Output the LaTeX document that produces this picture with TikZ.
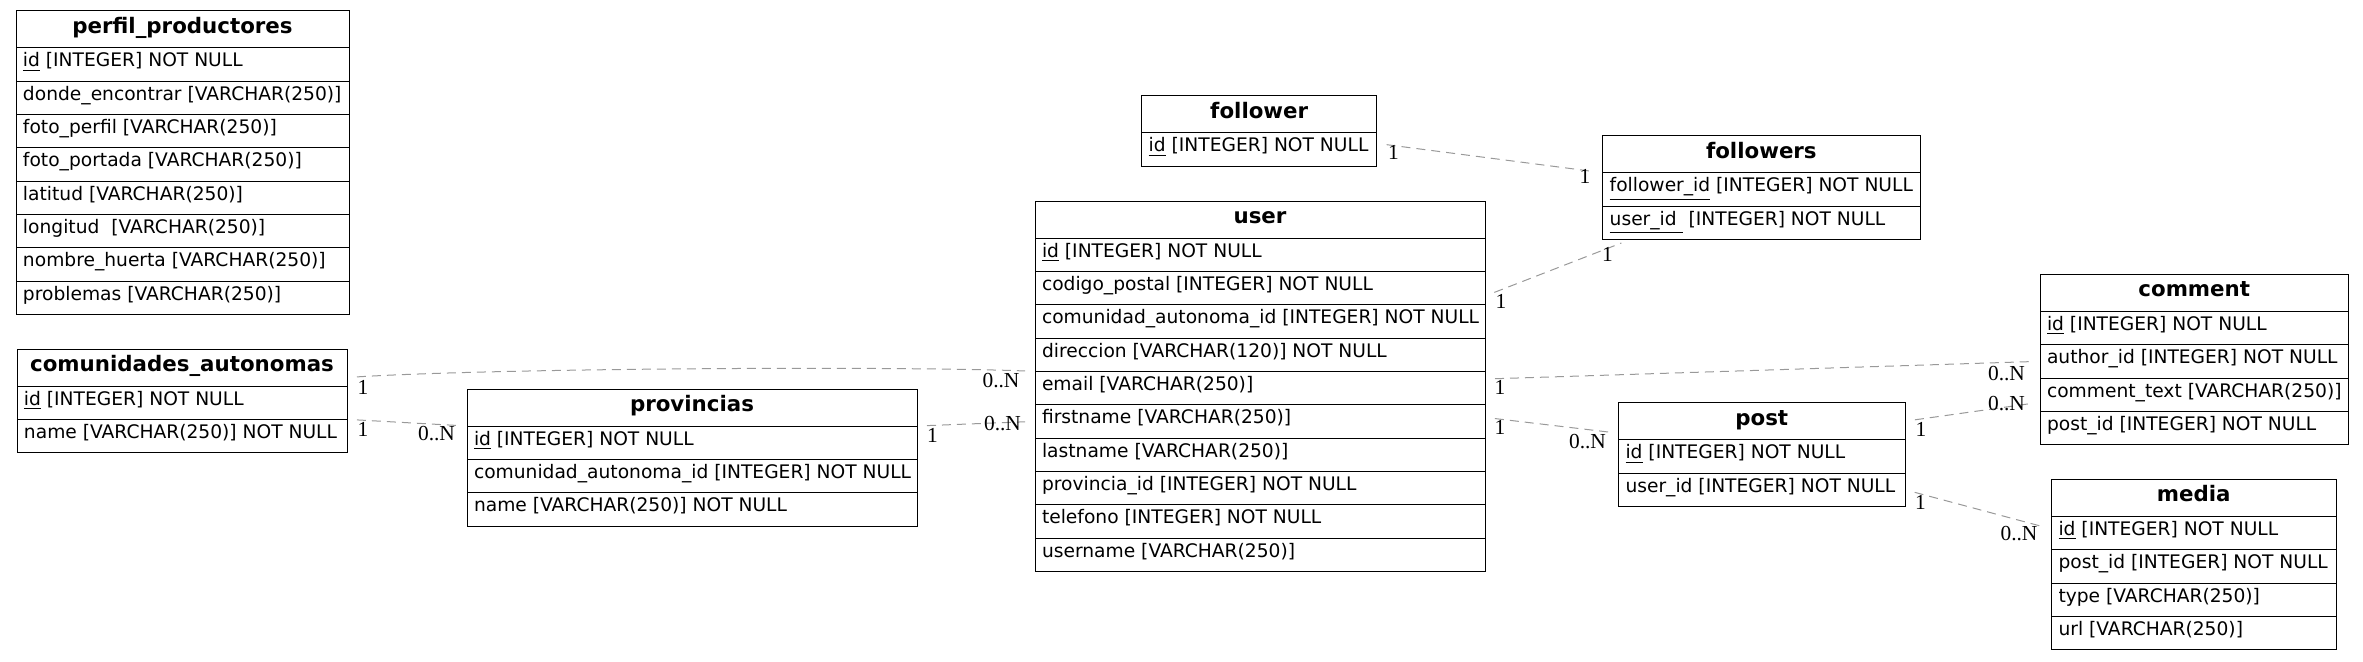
\documentclass[tikz,border=0pt]{standalone}
\usepackage{fontspec}
\setmainfont{DejaVu Sans}
\newfontfamily\cardfont{Liberation Serif}

\begin{document}
\begin{tikzpicture}[x=0.5pt, y=-0.5pt,
    tblhead/.style={draw, anchor=north west, inner xsep=3.5pt, inner ysep=0pt, outer sep=0pt,
        minimum height=18.5pt, text height=8pt, text depth=4pt,
        font=\fontsize{10.67}{12}\selectfont\bfseries},
    tblrow/.style={draw, anchor=north west, inner xsep=3.5pt, inner ysep=0pt, outer sep=0pt,
        minimum height=16.67pt, text height=7pt, text depth=4.5pt,
        font=\fontsize{9.33}{11}\selectfont},
    rel/.style={draw=gray!80, line width=0.5pt, dash pattern=on 4.5pt off 3pt,
        shorten <=5pt, shorten >=5pt},
    card/.style={inner sep=0pt, font=\cardfont\fontsize{10.7}{12}\selectfont}]

    \useasboundingbox (0,0) rectangle (2363,661);

    % perfil_productores
    \node[tblhead, minimum width=166.5pt] (pp-h) at (16,10.7) {perfil\_productores};
    \foreach \txt [count=\i] in {{\underline{id} [INTEGER] NOT NULL},
        {donde\_encontrar [VARCHAR(250)]}, {foto\_perfil [VARCHAR(250)]},
        {foto\_portada [VARCHAR(250)]}, {latitud [VARCHAR(250)]},
        {longitud\ \ [VARCHAR(250)]}, {nombre\_huerta [VARCHAR(250)]},
        {problemas [VARCHAR(250)]}}
        \node[tblrow, minimum width=166.5pt] (pp-\i) at ([yshift={-16.67pt*(\i-1)}]pp-h.south west)
            {\makebox[159.5pt][l]{\txt}};

    % comunidades_autonomas
    \node[tblhead, minimum width=165pt] (ca-h) at (17,349) {comunidades\_autonomas};
    \foreach \txt [count=\i] in {{\underline{id} [INTEGER] NOT NULL},
        {name [VARCHAR(250)] NOT NULL}}
        \node[tblrow, minimum width=165pt] (ca-\i) at ([yshift={-16.67pt*(\i-1)}]ca-h.south west)
            {\makebox[158pt][l]{\txt}};

    % provincias
    \node[tblhead, minimum width=225pt] (prov-h) at (467,389) {provincias};
    \foreach \txt [count=\i] in {{\underline{id} [INTEGER] NOT NULL},
        {comunidad\_autonoma\_id [INTEGER] NOT NULL}, {name [VARCHAR(250)] NOT NULL}}
        \node[tblrow, minimum width=225pt] (prov-\i) at ([yshift={-16.67pt*(\i-1)}]prov-h.south west)
            {\makebox[218pt][l]{\txt}};

    % follower
    \node[tblhead, minimum width=117.5pt] (fwr-h) at (1141.7,95.7) {follower};
    \node[tblrow, minimum width=117.5pt] (fwr-1) at (fwr-h.south west)
        {\makebox[110.5pt][l]{\underline{id} [INTEGER] NOT NULL}};

    % user
    \node[tblhead, minimum width=225pt] (user-h) at (1035,201) {user};
    \foreach \txt [count=\i] in {{\underline{id} [INTEGER] NOT NULL},
        {codigo\_postal [INTEGER] NOT NULL}, {comunidad\_autonoma\_id [INTEGER] NOT NULL},
        {direccion [VARCHAR(120)] NOT NULL}, {email [VARCHAR(250)]},
        {firstname [VARCHAR(250)]}, {lastname [VARCHAR(250)]},
        {provincia\_id [INTEGER] NOT NULL}, {telefono [INTEGER] NOT NULL},
        {username [VARCHAR(250)]}}
        \node[tblrow, minimum width=225pt] (user-\i) at ([yshift={-16.67pt*(\i-1)}]user-h.south west)
            {\makebox[218pt][l]{\txt}};

    % followers
    \node[tblhead, minimum width=158.65pt] (fws-h) at (1602.7,135.7) {followers};
    \foreach \txt [count=\i] in {{\underline{follower\_id} [INTEGER] NOT NULL},
        {\underline{user\_id\ } [INTEGER] NOT NULL}}
        \node[tblrow, minimum width=158.65pt] (fws-\i) at ([yshift={-16.67pt*(\i-1)}]fws-h.south west)
            {\makebox[151.65pt][l]{\txt}};

    % comment
    \node[tblhead, minimum width=154.25pt] (com-h) at (2040,274.3) {comment};
    \foreach \txt [count=\i] in {{\underline{id} [INTEGER] NOT NULL},
        {author\_id [INTEGER] NOT NULL}, {comment\_text [VARCHAR(250)]},
        {post\_id [INTEGER] NOT NULL}}
        \node[tblrow, minimum width=154.25pt] (com-\i) at ([yshift={-16.67pt*(\i-1)}]com-h.south west)
            {\makebox[147.25pt][l]{\txt}};

    % post
    \node[tblhead, minimum width=143.25pt] (post-h) at (1618.5,402.7) {post};
    \foreach \txt [count=\i] in {{\underline{id} [INTEGER] NOT NULL},
        {user\_id [INTEGER] NOT NULL}}
        \node[tblrow, minimum width=143.25pt] (post-\i) at ([yshift={-16.67pt*(\i-1)}]post-h.south west)
            {\makebox[136.25pt][l]{\txt}};

    % media
    \node[tblhead, minimum width=142.25pt] (med-h) at (2051.5,479.3) {media};
    \foreach \txt [count=\i] in {{\underline{id} [INTEGER] NOT NULL},
        {post\_id [INTEGER] NOT NULL}, {type [VARCHAR(250)]}, {url [VARCHAR(250)]}}
        \node[tblrow, minimum width=142.25pt] (med-\i) at ([yshift={-16.67pt*(\i-1)}]med-h.south west)
            {\makebox[135.25pt][l]{\txt}};

    % relations
    \draw[rel] ([yshift=-5pt]ca-h.east) .. controls (500,368) and (900,366) .. (user-5.north west);
    \draw[rel] (ca-1.south east) -- (prov-1.north west);
    \draw[rel] (prov-h.south east) -- (user-6.west);
    \draw[rel] ([yshift=3pt]fwr-1.east) -- (fws-h.south west);
    \draw[rel] ([yshift=-4pt]user-2.east) -- ([xshift=14pt]fws-2.south west);
    \draw[rel] ([yshift=4.5pt]user-5.east) -- (com-2.west);
    \draw[rel] ([yshift=2pt]user-6.east) -- ([yshift=-6pt]post-h.west);
    \draw[rel] (post-h.east) -- ([yshift=-3.8pt]com-3.west);
    \draw[rel] (post-2.east) -- ([yshift=2pt]med-1.west);

    % cardinalities
    \node[card] (ca-user-t) at (363,387.5) {1};
    \node[card] (ca-user-s) at (1001,381) {0..N};
    \node[card] (ca-prov-t) at (363,429.5) {1};
    \node[card] (ca-prov-s) at (436.5,433.5) {0..N};
    \node[card] (prov-user-t) at (932.5,435.5) {1};
    \node[card] (prov-user-s) at (1002.5,423.5) {0..N};
    \node[card] (fwr-fws-t) at (1393.5,152) {1};
    \node[card] (fwr-fws-s) at (1585,176.5) {1};
    \node[card] (user-fws-t) at (1501,301) {1};
    \node[card] (user-fws-s) at (1607.5,254) {1};
    \node[card] (user-com-t) at (1500,387.5) {1};
    \node[card] (user-com-s) at (2006.5,373.5) {0..N};
    \node[card] (user-post-t) at (1500,427.5) {1};
    \node[card] (user-post-s) at (1587.5,441.5) {0..N};
    \node[card] (post-com-t) at (1921,429.5) {1};
    \node[card] (post-com-s) at (2006.5,404) {0..N};
    \node[card] (post-med-t) at (1920.5,502.5) {1};
    \node[card] (post-med-s) at (2019,533.5) {0..N};
\end{tikzpicture}
\end{document}
